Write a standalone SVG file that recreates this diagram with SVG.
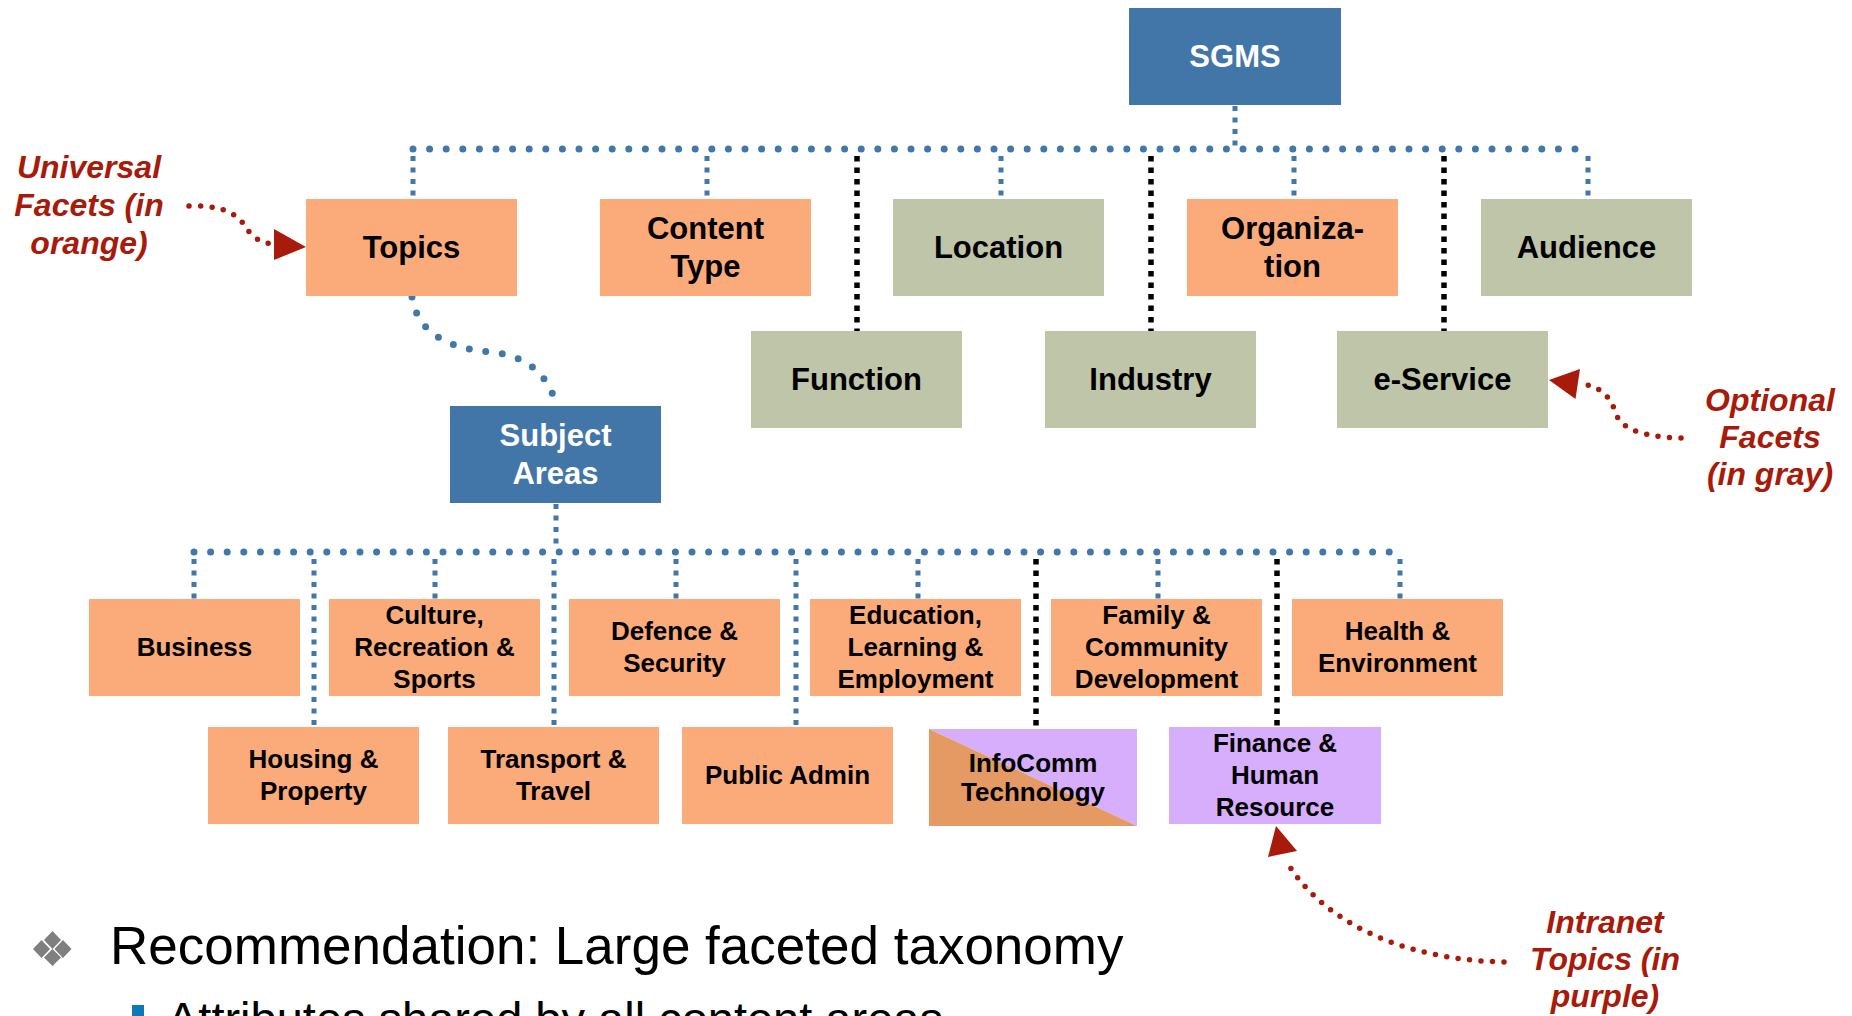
<svg xmlns="http://www.w3.org/2000/svg" width="1852" height="1016" viewBox="0 0 1852 1016">
<style>
.or{fill:#FBAA79}
.gr{fill:#BFC5A8}
.bl{fill:#4376A8}
.pu{fill:#D6AEFB}
.t{font-family:"Liberation Sans",Arial,sans-serif;font-weight:bold;text-anchor:middle;fill:#000}
.b{font-size:31px}
.s{font-size:26px}
.w{fill:#fff}
.bus{fill:none;stroke:#4277AA;stroke-width:7;stroke-linecap:round;stroke-dasharray:0 16.6}
.stub{fill:none;stroke:#4277AA;stroke-width:5;stroke-dasharray:5 6.5}
.blk{fill:none;stroke:#000;stroke-width:5.5;stroke-dasharray:5.5 6}
.red{fill:none;stroke:#A81A0A;stroke-width:5.5;stroke-linecap:round;stroke-dasharray:0 11.5}
.ann{font-family:"Liberation Sans",Arial,sans-serif;font-weight:bold;font-style:italic;font-size:32px;fill:#A81A0A;text-anchor:middle}
.ah{fill:#A81A0A}
</style>
<g id="connectors">
<path class="bus" d="M413 149 H1588"/>
<path class="stub" d="M1235 106 V146"/>
<path class="stub" d="M413 156 V199"/>
<path class="stub" d="M707 156 V199"/>
<path class="stub" d="M1001 156 V199"/>
<path class="stub" d="M1294 156 V199"/>
<path class="stub" d="M1588 156 V199"/>
<path class="blk" d="M857 156 V331"/>
<path class="blk" d="M1151 156 V331"/>
<path class="blk" d="M1444 156 V331"/>
<path class="bus" d="M412 297 C418 335 450 348 490 352 C525 355 545 372 555 400"/>
<path class="stub" d="M556 504 V549"/>
<path class="bus" d="M194 552 H1397"/>
<path class="stub" d="M194 559 V599"/>
<path class="stub" d="M435 559 V599"/>
<path class="stub" d="M676 559 V599"/>
<path class="stub" d="M918 559 V599"/>
<path class="stub" d="M1158 559 V599"/>
<path class="stub" d="M1400 559 V599"/>
<path class="stub" d="M314 559 V727"/>
<path class="stub" d="M554 559 V727"/>
<path class="stub" d="M796 559 V727"/>
<path class="blk" d="M1036 559 V729"/>
<path class="blk" d="M1277 559 V727"/>
</g>
<g id="node-sgms"><rect class="bl" x="1129" y="8" width="212" height="97"/><text class="t b w" x="1235" y="67">SGMS</text></g>
<g id="node-topics"><rect class="or" x="306" y="199" width="211" height="97"/><text class="t b" x="411.5" y="258">Topics</text></g>
<g id="node-content-type"><rect class="or" x="600" y="199" width="211" height="97"/><text class="t b" x="705.5" y="239">Content</text><text class="t b" x="705.5" y="277">Type</text></g>
<g id="node-location"><rect class="gr" x="893" y="199" width="211" height="97"/><text class="t b" x="998.5" y="258">Location</text></g>
<g id="node-organization"><rect class="or" x="1187" y="199" width="211" height="97"/><text class="t b" x="1292.5" y="239">Organiza-</text><text class="t b" x="1292.5" y="277">tion</text></g>
<g id="node-audience"><rect class="gr" x="1481" y="199" width="211" height="97"/><text class="t b" x="1586.5" y="258">Audience</text></g>
<g id="node-function"><rect class="gr" x="751" y="331" width="211" height="97"/><text class="t b" x="856.5" y="390">Function</text></g>
<g id="node-industry"><rect class="gr" x="1045" y="331" width="211" height="97"/><text class="t b" x="1150.5" y="390">Industry</text></g>
<g id="node-eservice"><rect class="gr" x="1337" y="331" width="211" height="97"/><text class="t b" x="1442.5" y="390">e-Service</text></g>
<g id="node-subject-areas"><rect class="bl" x="450" y="406" width="211" height="97"/><text class="t b w" x="555.5" y="446">Subject</text><text class="t b w" x="555.5" y="484">Areas</text></g>
<g id="node-business"><rect class="or" x="89" y="599" width="211" height="97"/><text class="t s" x="194.5" y="656">Business</text></g>
<g id="node-culture"><rect class="or" x="329" y="599" width="211" height="97"/><text class="t s" x="434.5" y="624">Culture,</text><text class="t s" x="434.5" y="656">Recreation &amp;</text><text class="t s" x="434.5" y="688">Sports</text></g>
<g id="node-defence"><rect class="or" x="569" y="599" width="211" height="97"/><text class="t s" x="674.5" y="640">Defence &amp;</text><text class="t s" x="674.5" y="672">Security</text></g>
<g id="node-education"><rect class="or" x="810" y="599" width="211" height="97"/><text class="t s" x="915.5" y="624">Education,</text><text class="t s" x="915.5" y="656">Learning &amp;</text><text class="t s" x="915.5" y="688">Employment</text></g>
<g id="node-family"><rect class="or" x="1051" y="599" width="211" height="97"/><text class="t s" x="1156.5" y="624">Family &amp;</text><text class="t s" x="1156.5" y="656">Community</text><text class="t s" x="1156.5" y="688">Development</text></g>
<g id="node-health"><rect class="or" x="1292" y="599" width="211" height="97"/><text class="t s" x="1397.5" y="640">Health &amp;</text><text class="t s" x="1397.5" y="672">Environment</text></g>
<g id="node-housing"><rect class="or" x="208" y="727" width="211" height="97"/><text class="t s" x="313.5" y="768">Housing &amp;</text><text class="t s" x="313.5" y="800">Property</text></g>
<g id="node-transport"><rect class="or" x="448" y="727" width="211" height="97"/><text class="t s" x="553.5" y="768">Transport &amp;</text><text class="t s" x="553.5" y="800">Travel</text></g>
<g id="node-public-admin"><rect class="or" x="682" y="727" width="211" height="97"/><text class="t s" x="787.5" y="784">Public Admin</text></g>
<g id="node-infocomm"><polygon class="pu" points="929,729 1137,729 1137,826"/><polygon fill="#E59963" points="929,729 1137,826 929,826"/><text class="t s" x="1033" y="772">InfoComm</text><text class="t s" x="1033" y="801">Technology</text></g>
<g id="node-finance"><rect class="pu" x="1169" y="727" width="212" height="97"/><text class="t s" x="1275" y="752">Finance &amp;</text><text class="t s" x="1275" y="784">Human</text><text class="t s" x="1275" y="816">Resource</text></g>
<g id="annotations">
<text class="ann" x="89" y="178">Universal</text>
<text class="ann" x="89" y="216">Facets (in</text>
<text class="ann" x="89" y="254">orange)</text>
<path class="red" d="M189 206 C230 205 240 218 247 229 C253 238 262 243 273 244"/>
<polygon class="ah" points="306,247 274,229 274,260"/>
<text class="ann" x="1770" y="411">Optional</text>
<text class="ann" x="1770" y="448">Facets</text>
<text class="ann" x="1770" y="485">(in gray)</text>
<path class="red" d="M1681 438 C1645 437 1622 430 1616 414 C1610 395 1600 387 1582 384"/>
<polygon class="ah" points="1549,380 1580,369 1575.5,399"/>
<text class="ann" x="1605" y="933">Intranet</text>
<text class="ann" x="1605" y="970">Topics (in</text>
<text class="ann" x="1605" y="1007">purple)</text>
<path class="red" d="M1504 962 C1400 960 1320 920 1285 859"/>
<polygon class="ah" points="1276,826 1268,857 1297,851"/>
</g>
<g id="bullets">
<g fill="#7F7F7F">
<polygon points="52.5,931 61,940 52.5,949 44,940"/>
<polygon points="41.5,940 50,949 41.5,958 33,949"/>
<polygon points="63,940 71.5,949 63,958 54.5,949"/>
<polygon points="52.5,949 61,957.5 52.5,966 44,957.5"/>
</g>
<text x="110" y="964" font-family="Liberation Sans, Arial, sans-serif" font-size="53" fill="#000">Recommendation: Large faceted taxonomy</text>
<rect x="132" y="1005" width="12" height="12" fill="#0E77B6"/>
<text x="167" y="1035" font-family="Liberation Sans, Arial, sans-serif" font-size="47" fill="#000">Attributes shared by all content areas</text>
</g>
</svg>
